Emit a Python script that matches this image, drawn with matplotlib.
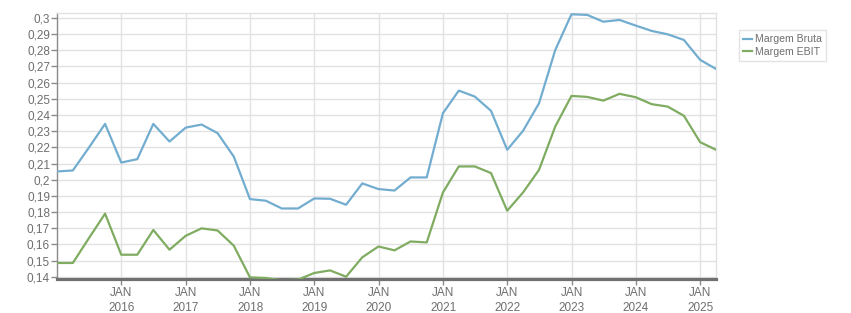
import matplotlib
matplotlib.use("Agg")
import matplotlib.pyplot as plt
import pandas as pd

plt.rcParams["font.family"] = ["Liberation Sans", "DejaVu Sans"]

# quarterly, Dec 2014 .. Mar 2025
datas = pd.date_range("2014-12-31", "2025-03-31", freq="QE-DEC")

margem_bruta = [0.2051, 0.2057, 0.2198, 0.2345, 0.2106, 0.2127, 0.2345, 0.2236,
                0.2322, 0.2341, 0.2288, 0.2143, 0.1880, 0.1870, 0.1822, 0.1822,
                0.1884, 0.1882, 0.1845, 0.1977, 0.1942, 0.1933, 0.2014, 0.2014,
                0.2411, 0.2551, 0.2514, 0.2426, 0.2185, 0.2302, 0.2473, 0.2802,
                0.3023, 0.3019, 0.2977, 0.2988, 0.2953, 0.2920, 0.2899, 0.2864,
                0.2741, 0.2685]

margem_ebit = [0.1485, 0.1485, 0.1638, 0.1790, 0.1536, 0.1536, 0.1689, 0.1567,
               0.1653, 0.1699, 0.1686, 0.1592, 0.1396, 0.1392, 0.1378, 0.1382,
               0.1423, 0.1439, 0.1400, 0.1520, 0.1587, 0.1563, 0.1618, 0.1612,
               0.1921, 0.2082, 0.2082, 0.2041, 0.1808, 0.1921, 0.2061, 0.2329,
               0.2518, 0.2512, 0.2489, 0.2531, 0.2510, 0.2467, 0.2452, 0.2395,
               0.2232, 0.2185]

y_ticks = [0.14, 0.15, 0.16, 0.17, 0.18, 0.19, 0.2, 0.21, 0.22, 0.23, 0.24,
           0.25, 0.26, 0.27, 0.28, 0.29, 0.3]
anos = list(range(2016, 2026))

azul = "#72add0"
verde = "#7fac61"
cinza_txt = "#6e6e6e"

fig = plt.figure(figsize=(8.51, 3.13), dpi=100)
ax = fig.add_axes([57 / 851, 1 - 279.3 / 313, (716 - 57) / 851, (279.3 - 13.3) / 313])

ax.plot(datas, margem_bruta, color=azul, lw=1.6, label="Margem Bruta", zorder=3)
ax.plot(datas, margem_ebit, color=verde, lw=1.6, label="Margem EBIT", zorder=3)

ax.set_xlim(datas[0], datas[-1])
ax.set_ylim(0.1384, 0.3029)

ax.set_yticks(y_ticks)
ax.set_yticklabels([("%g" % v).replace(".", ",") for v in y_ticks])
xt = [pd.Timestamp(year=a, month=1, day=1) for a in anos]
ax.set_xticks(xt)
ax.set_xticklabels(["JAN\n%d" % a for a in anos], linespacing=1.3)

ax.grid(True, color="#e2e2e2", lw=1)
ax.set_axisbelow(True)

for s in ["top", "right"]:
    ax.spines[s].set_color("#e2e2e2")
    ax.spines[s].set_linewidth(1)
ax.spines["left"].set_color("#8a8a8a")
ax.spines["left"].set_linewidth(1)
ax.spines["bottom"].set_color("#707070")
ax.spines["bottom"].set_linewidth(2.3)

ax.tick_params(axis="y", colors="#8a8a8a", labelcolor=cinza_txt, labelsize=8.5,
               length=4, width=1, pad=1)
ax.tick_params(axis="x", colors="#8a8a8a", labelcolor=cinza_txt, labelsize=8.5,
               length=4, width=1, pad=1.5)

leg = fig.legend(loc="upper left", bbox_to_anchor=(739 / 851, 1 - 30 / 313),
                 frameon=True, fancybox=False, fontsize=7.6, handlelength=0.8,
                 handletextpad=0.3, borderpad=0.4, labelspacing=0.25,
                 borderaxespad=0)
leg.get_frame().set_edgecolor("#dddddd")
leg.get_frame().set_linewidth(1)
for t in leg.get_texts():
    t.set_color(cinza_txt)

fig.savefig("out.png", dpi=100)
